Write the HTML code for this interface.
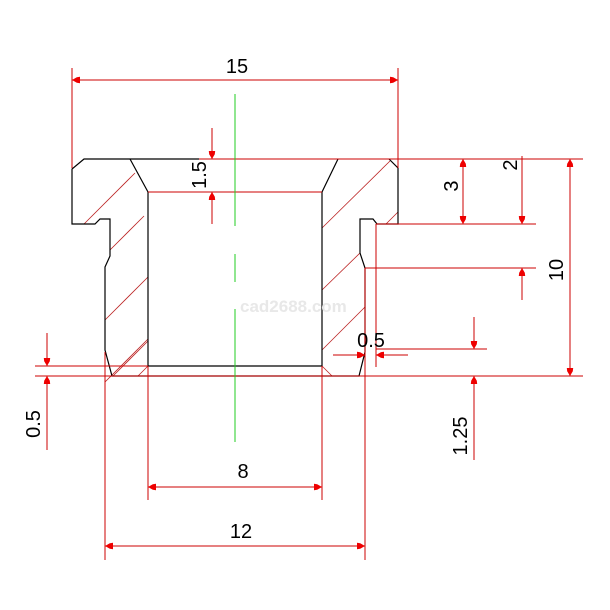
<!DOCTYPE html>
<html><head><style>html,body{margin:0;padding:0;background:#fff}svg{display:block}</style></head>
<body>
<svg width="610" height="610" viewBox="0 0 610 610" xmlns="http://www.w3.org/2000/svg">
<defs>
<marker id="a" viewBox="0 0 10 10" refX="10" refY="5" markerWidth="16" markerHeight="8" markerUnits="userSpaceOnUse" orient="auto-start-reverse"><path d="M0,1 L4,1.5 L10,5 L4,8.5 L0,9z" fill="#e00"/></marker>
</defs>
<rect width="610" height="610" fill="#fff"/>
<g stroke="#b22" stroke-width="0.8">
<line x1="84" y1="224" x2="135" y2="173"/>
<line x1="110" y1="250" x2="144" y2="216"/>
<line x1="105" y1="320" x2="148" y2="277"/>
<line x1="105" y1="382" x2="148" y2="339"/>
<line x1="113" y1="376" x2="148" y2="341"/>
<line x1="322" y1="228" x2="390" y2="161"/>
<line x1="386" y1="224" x2="398" y2="212"/>
<line x1="322" y1="290" x2="360" y2="253"/>
<line x1="322" y1="350" x2="365" y2="307"/>
<line x1="138" y1="376" x2="148" y2="366"/>
<line x1="322" y1="366" x2="332" y2="376"/>
</g>
<g fill="none" stroke="#000" stroke-width="1.2">
<path d="M199,159 L84,159 L72,169 L72,224 L95,224 L100,219 L110,219 L110,256 L105,267 L105,350 L112,376 L359,376 L365,352 L365,268 L360,253 L360,219 L373,219 L377,224 L398,224 L398,168 L389,159"/>
<path d="M130,159 L148,192 L148,366 M338,159 L322,192 L322,366 M148,366 L322,366"/>
</g>
<g stroke="#c00" stroke-width="1" fill="none">
<line x1="199" y1="159" x2="583" y2="159"/>
<line x1="148" y1="192" x2="322" y2="192"/>
<line x1="72" y1="68" x2="72" y2="168"/>
<line x1="398" y1="68" x2="398" y2="168"/>
<line x1="72" y1="80" x2="398" y2="80" marker-start="url(#a)" marker-end="url(#a)"/>
<line x1="212" y1="128" x2="212" y2="159" marker-end="url(#a)"/>
<line x1="212" y1="224" x2="212" y2="192" marker-end="url(#a)"/>
<line x1="376" y1="224" x2="536" y2="224"/>
<line x1="365" y1="268" x2="536" y2="268"/>
<line x1="463" y1="159" x2="463" y2="224" marker-start="url(#a)" marker-end="url(#a)"/>
<line x1="522" y1="156" x2="522" y2="224" marker-end="url(#a)"/>
<line x1="522" y1="300" x2="522" y2="268" marker-end="url(#a)"/>
<line x1="570" y1="159" x2="570" y2="376" marker-start="url(#a)" marker-end="url(#a)"/>
<line x1="376" y1="349" x2="487" y2="349"/>
<line x1="474" y1="317" x2="474" y2="349" marker-end="url(#a)"/>
<line x1="35" y1="376" x2="583" y2="376"/>
<line x1="35" y1="366" x2="148" y2="366"/>
<line x1="474" y1="460" x2="474" y2="376" marker-end="url(#a)"/>
<line x1="376" y1="224" x2="376" y2="367"/>
<line x1="365" y1="268" x2="365" y2="560"/>
<line x1="333" y1="355" x2="365" y2="355" marker-end="url(#a)"/>
<line x1="408" y1="355" x2="376" y2="355" marker-end="url(#a)"/>
<line x1="47" y1="333" x2="47" y2="366" marker-end="url(#a)"/>
<line x1="47" y1="450" x2="47" y2="376" marker-end="url(#a)"/>
<line x1="105" y1="352" x2="105" y2="560"/>
<line x1="148" y1="366" x2="148" y2="500"/>
<line x1="322" y1="366" x2="322" y2="500"/>
<line x1="148" y1="487" x2="322" y2="487" marker-start="url(#a)" marker-end="url(#a)"/>
<line x1="105" y1="546" x2="365" y2="546" marker-start="url(#a)" marker-end="url(#a)"/>
</g>
<g stroke="#2c2" stroke-width="1">
<line x1="235" y1="94" x2="235" y2="226"/>
<line x1="235" y1="254" x2="235" y2="282"/>
<line x1="235" y1="309" x2="235" y2="442"/>
</g>
<text x="240" y="312" font-family="Liberation Sans,sans-serif" font-size="17" font-weight="bold" fill="#e8e8e8">cad2688.com</text>
<g font-family="Liberation Sans,sans-serif" font-size="20" fill="#000" text-anchor="middle">
<text x="237" y="73">15</text>
<text x="243" y="478">8</text>
<text x="241" y="538">12</text>
<text x="371" y="347">0.5</text>
<text transform="translate(206,175) rotate(-90)">1.5</text>
<text transform="translate(458,186) rotate(-90)">3</text>
<text transform="translate(517,165) rotate(-90)">2</text>
<text transform="translate(563,270) rotate(-90)">10</text>
<text transform="translate(467,436) rotate(-90)">1.25</text>
<text transform="translate(40,424) rotate(-90)">0.5</text>
</g>
</svg>
</body></html>
